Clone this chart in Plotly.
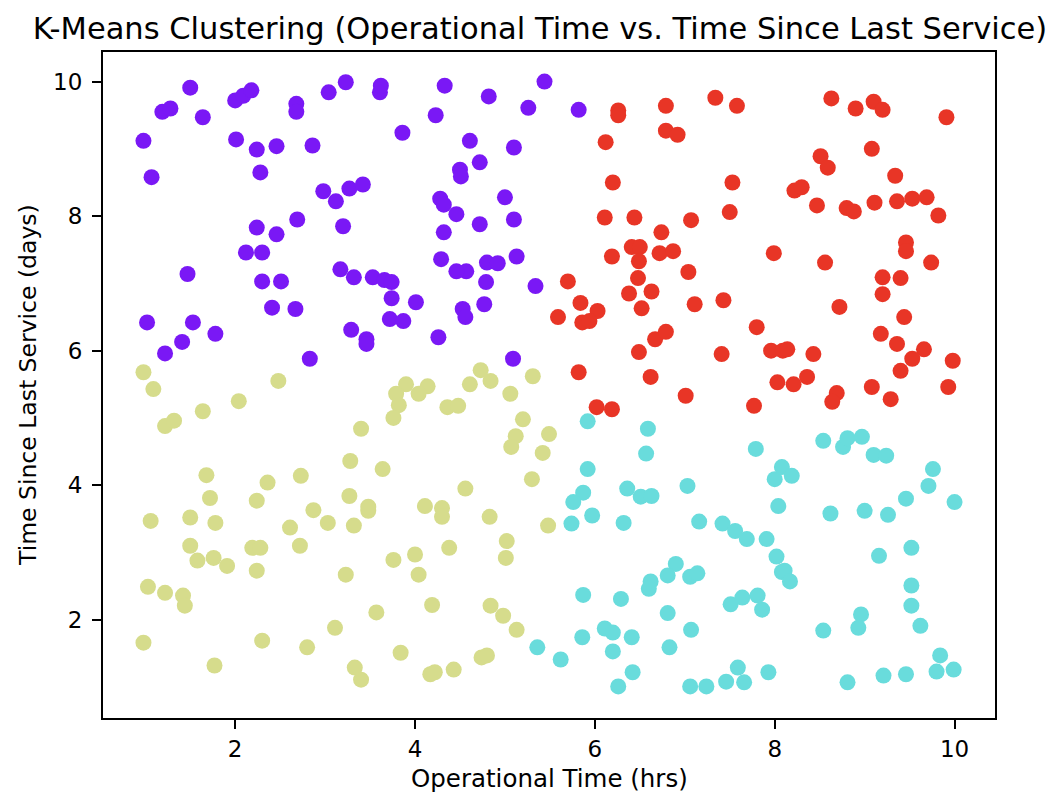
import plotly.graph_objects as go

# Cluster 0 (purple)
c0_x = [0.98, 1.07, 1.02, 1.22, 1.19, 1.28, 1.50, 1.64, 1.41, 1.47, 1.53, 1.78, 2.01, 2.00, 2.09, 2.18,
        2.12, 2.24, 2.24, 2.28, 2.30, 2.46, 2.46, 2.41, 2.51, 2.30, 2.68, 2.68, 2.69, 2.67, 2.86, 2.83,
        2.98, 3.04, 3.12, 3.17, 3.20, 3.23, 3.27, 3.29, 3.32, 3.42, 3.46, 3.46, 3.53, 3.61, 3.62, 3.66,
        3.74, 3.74, 3.72, 3.86, 3.87, 4.01, 4.23, 4.26, 4.28, 4.32, 4.32, 4.29, 4.33, 4.46, 4.50, 4.51,
        4.61, 4.53, 4.56, 4.57, 4.46, 4.72, 4.72, 4.77, 4.80, 4.79, 4.82, 4.92, 5.00, 5.10, 5.10, 5.13,
        5.09, 5.26, 5.34, 5.44, 5.82]
c0_y = [9.12, 8.58, 6.42, 5.96, 9.55, 9.60, 9.91, 9.47, 6.13, 7.14, 6.42, 6.25, 9.14, 9.72, 9.79, 9.87,
        7.46, 8.99, 7.83, 8.65, 7.46, 9.04, 7.73, 6.64, 7.03, 7.03, 9.67, 9.55, 7.95, 6.62, 9.05, 5.88,
        8.37, 9.84, 8.22, 7.21, 7.85, 9.99, 8.41, 6.31, 7.09, 8.47, 6.17, 6.10, 7.09, 9.84, 9.94, 7.05,
        6.78, 7.02, 6.47, 9.24, 6.44, 6.72, 9.50, 6.20, 8.26, 8.17, 7.76, 7.36, 9.94, 8.03, 8.69, 8.59,
        9.12, 6.62, 6.50, 7.18, 7.18, 8.80, 7.88, 6.69, 7.31, 7.02, 9.78, 7.30, 8.28, 9.02, 7.95, 7.40,
        5.88, 9.61, 6.96, 10.00, 9.58]

# Cluster 1 (cyan)
c1_x = [5.92, 6.59, 6.57, 7.79, 5.92, 7.03, 5.87, 5.76, 6.36, 6.51, 6.63, 8.00, 8.08, 8.04,
        5.74, 5.97, 6.32, 7.16, 7.42, 7.56, 7.69, 7.91, 8.02, 8.08, 6.90, 6.81, 6.62, 6.60, 7.06, 7.14,
        5.87, 6.29, 6.81, 7.51, 7.64, 7.81, 7.86, 6.11, 6.20, 5.86, 6.41, 7.07, 6.20, 6.83, 5.62, 6.42,
        6.26, 7.06, 7.24, 7.46, 7.59, 7.66, 7.93, 5.36,
        8.62, 9.00, 9.26, 10.00, 9.52, 9.16, 8.11, 8.17, 9.52, 9.52, 8.96, 8.93, 9.62, 8.54, 9.84,
        9.80, 9.99, 9.46, 9.21, 8.81, 8.54, 8.76, 8.81, 8.97, 9.10, 9.24, 9.76, 9.71, 8.19, 9.46]
c1_y = [4.95, 4.84, 4.47, 4.54, 4.24, 3.99, 3.89, 3.75, 3.95, 3.83, 3.84, 4.09, 4.27, 3.69,
        3.43, 3.55, 3.44, 3.46, 3.43, 3.32, 3.20, 3.20, 2.94, 2.71, 2.83, 2.66, 2.57, 2.46, 2.64, 2.69,
        2.37, 2.31, 2.10, 2.23, 2.33, 2.36, 2.15, 1.87, 1.81, 1.74, 1.74, 1.85, 1.53, 1.59, 1.41, 1.22,
        1.01, 1.01, 1.01, 1.08, 1.29, 1.07, 1.22, 1.59,
        3.58, 3.62, 3.56, 3.75, 3.07, 2.95, 2.73, 2.57, 2.51, 2.21, 2.08, 1.88, 1.91, 1.84, 1.47,
        1.23, 1.26, 1.19, 1.17, 1.07, 4.66, 4.57, 4.70, 4.72, 4.45, 4.44, 4.24, 3.99, 4.14, 3.80]

# Cluster 2 (olive)
c2_x = [0.98, 1.09, 1.22, 1.32, 1.64, 2.04, 2.48, 1.68, 1.72, 2.36, 2.73, 2.24, 2.87,
        1.06, 1.50, 1.78, 2.61, 3.03, 1.50, 1.58, 1.76, 1.91, 2.19, 2.28, 2.24, 2.72, 1.03, 1.22,
        1.42, 1.44, 0.98, 2.30, 2.80, 1.77, 3.11,
        3.32, 3.48, 4.11, 4.30, 4.30, 4.83, 5.48, 5.02, 5.01, 4.38, 3.76, 4.00, 4.04, 3.23, 4.19,
        4.84, 4.98, 5.13, 3.57, 3.84, 3.33, 3.40, 4.17, 4.22, 4.43, 4.74, 4.80,
        4.73, 4.84, 4.61, 5.31, 5.06, 5.20, 5.12, 5.07, 5.49, 5.42, 5.30, 3.90, 4.14, 3.79, 4.04,
        3.82, 3.76, 4.36, 4.48, 3.40, 3.28, 3.64, 4.56, 3.27, 3.48]
c2_y = [5.68, 5.43, 4.88, 4.96, 5.10, 5.25, 5.55, 4.15, 3.81, 4.04, 4.14, 3.77, 3.63,
        3.47, 3.52, 3.44, 3.37, 3.44, 3.10, 2.88, 2.92, 2.80, 3.07, 3.07, 2.73, 3.10, 2.49, 2.40,
        2.36, 2.21, 1.66, 1.69, 1.59, 1.32, 1.88,
        3.40, 3.62, 3.69, 3.66, 3.53, 3.53, 3.40, 3.17, 2.92, 3.07, 2.89, 2.97, 2.67, 2.67, 2.22,
        2.21, 2.06, 1.85, 2.11, 1.51, 1.29, 1.11, 1.19, 1.22, 1.26, 1.44, 1.47,
        5.71, 5.55, 5.50, 5.62, 5.36, 4.98, 4.73, 4.57, 4.76, 4.48, 4.09, 5.50, 5.47, 5.36, 5.36,
        5.19, 5.00, 5.16, 5.18, 4.84, 4.36, 4.24, 3.95, 3.84, 3.68]

# Cluster 3 (red)
c3_x = [6.26, 6.26, 6.79, 7.34, 7.58, 6.12, 6.79, 6.92, 6.20, 7.53, 6.11, 6.44, 7.07, 7.50, 6.74,
        6.41, 6.50, 6.19, 6.49, 6.72, 6.87, 7.99, 7.04, 5.70, 6.48,
        6.38, 6.63, 5.84, 6.03, 5.59, 5.86, 5.94, 6.52, 7.11, 7.43, 7.80, 7.96, 8.09, 6.67, 6.79,
        6.49, 7.41, 5.82, 6.62, 7.01, 8.03, 7.77, 6.02, 6.19,
        8.63, 8.90, 9.10, 9.20, 9.91, 9.08, 8.51, 8.59, 9.34, 8.22, 8.30, 8.47, 8.80, 8.88, 9.11,
        9.36, 9.53, 9.69, 9.82, 9.46, 9.46, 9.74, 8.56, 9.20, 9.40,
        9.20, 8.72, 9.44, 9.18, 9.36, 9.66, 9.53, 9.40, 9.98, 9.93, 8.14, 8.43, 8.21, 8.36, 8.69,
        8.64, 9.08, 9.29]
c3_y = [9.57, 9.50, 9.64, 9.76, 9.64, 9.10, 9.27, 9.21, 8.50, 8.50, 7.98, 7.98, 7.94, 8.06, 7.76,
        7.54, 7.54, 7.40, 7.33, 7.45, 7.48, 7.45, 7.17, 7.03, 7.08,
        6.85, 6.88, 6.71, 6.59, 6.50, 6.42, 6.44, 6.63, 6.69, 6.75, 6.35, 6.00, 6.00, 6.17, 6.28,
        5.98, 5.95, 5.68, 5.61, 5.33, 5.53, 5.18, 5.16, 5.13,
        9.75, 9.60, 9.70, 9.58, 9.47, 9.00, 8.89, 8.72, 8.60, 8.38, 8.43, 8.16, 8.12, 8.07, 8.20,
        8.22, 8.26, 8.28, 8.01, 7.61, 7.48, 7.31, 7.31, 7.09, 7.08,
        6.84, 6.65, 6.50, 6.25, 6.10, 6.02, 5.88, 5.70, 5.85, 5.46, 6.02, 5.95, 5.50, 5.61, 5.37,
        5.24, 5.46, 5.28]

tick_vals = [2, 4, 6, 8, 10]
title_text = "K-Means Clustering (Operational Time vs. Time Since Last Service)"
x_label = "Operational Time (hrs)"
y_label = "Time Since Last Service (days)"

clusters = [
    (c0_x, c0_y, "#7a18f5"),
    (c1_x, c1_y, "#69dcdc"),
    (c2_x, c2_y, "#d6dc8c"),
    (c3_x, c3_y, "#e83526"),
]

fig = go.Figure()
for xs, ys, col in clusters:
    fig.add_trace(go.Scatter(x=xs, y=ys, mode="markers",
                             marker=dict(size=16, color=col, line=dict(width=0)),
                             showlegend=False, hoverinfo="x+y"))

font = "DejaVu Sans, sans-serif"
axis_common = dict(showgrid=False, zeroline=False, showline=True, linecolor="black", linewidth=2,
                   mirror=True, ticks="outside", ticklen=9, tickwidth=2, tickcolor="black",
                   tickfont=dict(family=font, size=23, color="black"))
fig.update_layout(
    width=1064, height=808,
    paper_bgcolor="white", plot_bgcolor="white",
    margin=dict(l=95, r=77, t=44, b=98),
    title=dict(text=title_text, x=0.5, xref="container", xanchor="center",
               y=1 - 20 / 808, yref="container", yanchor="middle",
               font=dict(family=font, size=30.5, color="black")),
    xaxis=dict(range=[0.53, 10.45], tickvals=tick_vals, ticklabelstandoff=0, **axis_common),
    yaxis=dict(range=[0.54, 10.44], tickvals=tick_vals, ticklabelstandoff=5, **axis_common),
    annotations=[
        dict(text=x_label, x=0.5, xref="paper", y=0, yref="paper", yanchor="middle",
             yshift=-60, showarrow=False, font=dict(family=font, size=24.5, color="black")),
        dict(text=y_label, x=0, xref="paper", y=0.5, yref="paper", xanchor="center",
             xshift=-75, textangle=-90, showarrow=False, font=dict(family=font, size=23.5, color="black")),
    ],
)
fig.write_html("out.html")
